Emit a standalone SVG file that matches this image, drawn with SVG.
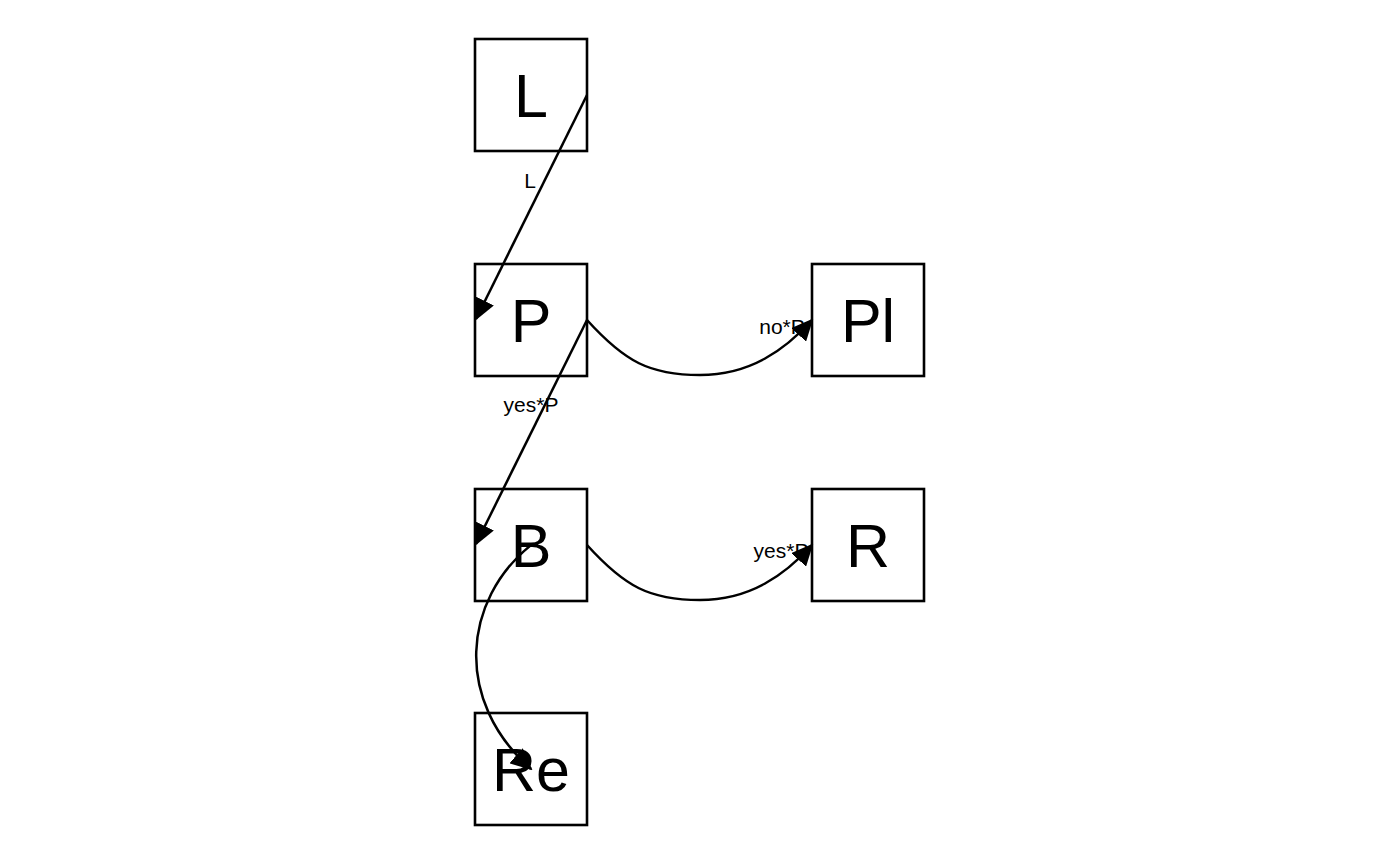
<svg xmlns="http://www.w3.org/2000/svg" width="1400" height="865" viewBox="0 0 1400 865">
<style>
.box{fill:#fff;stroke:#000;stroke-width:2.6}
.nl{font-family:"Liberation Sans",Arial,sans-serif;font-size:61px;text-anchor:middle;fill:#000}
.el{font-family:"Liberation Sans",Arial,sans-serif;font-size:21px;text-anchor:middle;fill:#000}
.edge{fill:none;stroke:#000;stroke-width:2.5;marker-end:url(#arr)}
</style>
<defs>
<marker id="arr" markerUnits="userSpaceOnUse" markerWidth="22" markerHeight="20" viewBox="0 0 22 20" refX="20" refY="10" orient="auto">
<path d="M0,0 L22,10 L0,20 Z" fill="#000"/>
</marker>
</defs>
<rect width="1400" height="865" fill="#fff"/>
<g id="node-L"><rect class="box" x="475" y="39" width="112" height="112"/><text class="nl" x="531" y="117">L</text></g>
<g id="node-P"><rect class="box" x="475" y="264" width="112" height="112"/><text class="nl" x="531" y="342">P</text></g>
<g id="node-B"><rect class="box" x="475" y="489" width="112" height="112"/><text class="nl" x="531" y="567">B</text></g>
<g id="node-Re"><rect class="box" x="475" y="713" width="112" height="112"/><text class="nl" x="531" y="791">Re</text></g>
<g id="node-Pl"><rect class="box" x="812" y="264" width="112" height="112"/><text class="nl" x="868" y="342">Pl</text></g>
<g id="node-R"><rect class="box" x="812" y="489" width="112" height="112"/><text class="nl" x="868" y="567">R</text></g>
<g id="edge-labels">
<text class="el" x="530" y="188">L</text>
<text class="el" x="531" y="412">yes*P</text>
<text class="el" x="782" y="334">no*P</text>
<text class="el" x="781" y="558">yes*P</text>
</g>
<g id="connectors">
<path class="edge" d="M587,95 L476,319"/>
<path class="edge" d="M587,320 L476,544"/>
<path class="edge" d="M587,320 C625,362 650,375 700,375 C750,375 785,350 812,320"/>
<path class="edge" d="M587,545 C625,587 650,600 700,600 C750,600 785,575 812,545"/>
<path class="edge" d="M531,545 C463,600 453,700 531,769"/>
</g>
</svg>
